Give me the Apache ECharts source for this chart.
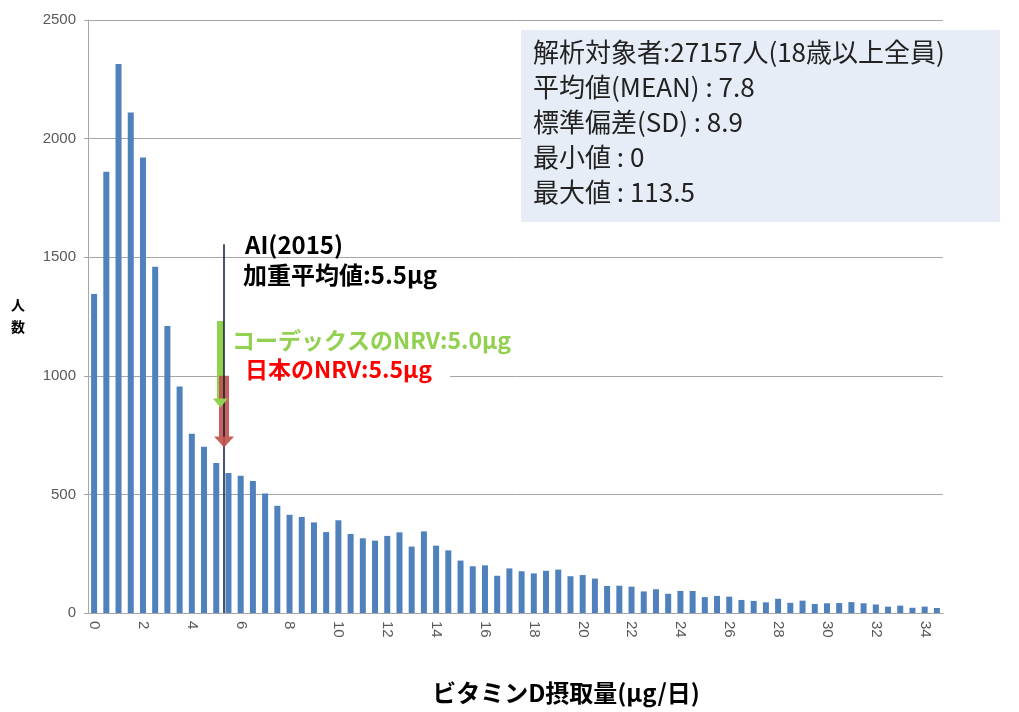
<!DOCTYPE html>
<html>
<head>
<meta charset="utf-8">
<script src="https://cdn.jsdelivr.net/npm/echarts@6/dist/echarts.min.js"></script>
<style>
  html, body { margin: 0; padding: 0; background: #fff; }
  #main { width: 1019px; height: 712px; }
</style>
</head>
<body>
<div id="main"></div>
<script>
// bins of 0.5 ug/day
var binLabels = ['0','0.5','1','1.5','2','2.5','3','3.5','4','4.5',
  '5','5.5','6','6.5','7','7.5','8','8.5','9','9.5',
  '10','10.5','11','11.5','12','12.5','13','13.5','14','14.5',
  '15','15.5','16','16.5','17','17.5','18','18.5','19','19.5',
  '20','20.5','21','21.5','22','22.5','23','23.5','24','24.5',
  '25','25.5','26','26.5','27','27.5','28','28.5','29','29.5',
  '30','30.5','31','31.5','32','32.5','33','33.5','34','34.5'];

var counts = [1345,1860,2315,2110,1920,1460,1210,955,756,701,
  632,590,579,556,504,452,414,405,382,341,
  391,333,315,305,325,340,280,344,284,264,
  221,197,201,157,188,176,167,178,183,155,
  160,145,114,115,111,91,100,81,93,93,
  67,72,69,55,51,45,60,43,52,38,
  41,42,46,41,36,27,31,22,27,21];

var yTicks = [0, 500, 1000, 1500, 2000, 2500];

var statLines = [
  '解析対象者:27157人(18歳以上全員)',
  '平均値(MEAN) : 7.8',
  '標準偏差(SD) : 8.9',
  '最小値 : 0',
  '最大値 : 113.5'
];

var aiValue = 5.5;      // AI(2015)
var codexNrv = 5.0;
var japanNrv = 5.5;

var myChart = echarts.init(document.getElementById('main'));
var gray = '#a6a6a6';
var labelColor = '#595959';

var graphics = [{
  type: 'rect',
  z: 1,
  shape: { x: 521, y: 30, width: 479, height: 192 },
  style: { fill: '#e7edf6' }
}];
// info box text
for (var i = 0; i < statLines.length; i++) {
  graphics.push({
    type: 'text',
    z: 3,
    x: 533, y: 52 + i * 35,
    style: {
      text: statLines[i],
      fill: '#222',
      font: '26px "Noto Sans CJK JP"',
      textVerticalAlign: 'middle'
    }
  });
}
graphics.push({
  type: 'text', z: 1,
  x: 245, y: 245,
  style: { text: 'AI(2015)', fill: '#000', font: 'bold 24px "Noto Sans CJK JP"', textVerticalAlign: 'middle' }
}, {
  type: 'text', z: 1,
  x: 243, y: 275,
  style: { text: '加重平均値:5.5μg', fill: '#000', font: 'bold 24px "Noto Sans CJK JP"', textVerticalAlign: 'middle' }
}, {
  type: 'text', z: 1,
  x: 232, y: 340,
  style: { text: 'コーデックスのNRV:5.0μg', fill: '#92d050', font: 'bold 23px "Noto Sans CJK JP"', textVerticalAlign: 'middle' }
}, {
  type: 'text', z: 1,
  x: 226, y: 369,
  style: {
    text: '日本のNRV:5.5μg', fill: '#ff0000', font: 'bold 23px "Noto Sans CJK JP"',
    textVerticalAlign: 'middle',
    backgroundColor: '#fff', padding: [2, 18, 2, 19]
  }
}, {
  type: 'text', z: 1,
  x: 18, y: 316,
  style: {
    text: '人\n数', fill: '#000', font: 'bold 14px "Noto Sans CJK JP"',
    lineHeight: 22, textAlign: 'center', textVerticalAlign: 'middle'
  }
}, {
  type: 'text', z: 1,
  x: 566, y: 693,
  style: {
    text: 'ビタミンD摂取量(μg/日)', fill: '#000', font: 'bold 24px "Noto Sans CJK JP"',
    textAlign: 'center', textVerticalAlign: 'middle'
  }
});

var option = {
  animation: false,
  grid: { left: 88, right: 76, top: 20, bottom: 99 },
  xAxis: [{
    type: 'category',
    data: binLabels,
    axisLine: { lineStyle: { color: gray } },
    axisTick: { interval: 0, length: 5, lineStyle: { color: gray } },
    axisLabel: {
      interval: 3, rotate: -90, margin: 8,
      color: labelColor, fontSize: 15, fontFamily: 'Liberation Sans'
    },
    splitLine: { show: false }
  }, {
    // overlay axis for the annotations
    type: 'value', min: 0, max: 35, show: false
  }],
  yAxis: {
    type: 'value',
    min: yTicks[0],
    max: yTicks[yTicks.length - 1],
    interval: 500,
    axisLine: { show: true, lineStyle: { color: gray } },
    axisTick: { show: true, length: 4, lineStyle: { color: gray } },
    axisLabel: {
      color: labelColor, fontSize: 15, margin: 12, fontFamily: 'Liberation Sans',
      formatter: function (v) { return String(v); }
    },
    splitLine: { lineStyle: { color: gray } }
  },
  series: [{
    name: '人数',
    type: 'bar',
    data: counts,
    barWidth: 6,
    itemStyle: { color: '#4f81bd' }
  }, {
    type: 'scatter',
    xAxisIndex: 1,
    data: [],
    z: 5,
    markLine: {
      silent: true,
      symbol: 'none',
      label: { show: false },
      data: [
        [ { coord: [codexNrv + 0.42, 1231], lineStyle: { color: '#92d050', width: 7, type: 'solid' } },
          { coord: [codexNrv + 0.42, 902] } ],
        [ { coord: [japanNrv + 0.07, 1000], lineStyle: { color: '#c0504d', width: 10, type: 'solid', opacity: 0.9 } },
          { coord: [japanNrv + 0.07, 742] } ],
        [ { coord: [aiValue + 0.07, 1555], lineStyle: { color: '#0d1b36', width: 1.5, type: 'solid' } },
          { coord: [aiValue + 0.07, 0] } ]
      ]
    },
    markPoint: {
      silent: true,
      symbol: 'triangle',
      symbolRotate: 180,
      label: { show: false },
      data: [
        { coord: [codexNrv + 0.42, 885], symbolSize: [15, 9], itemStyle: { color: '#92d050' } },
        { coord: [japanNrv + 0.07, 721], symbolSize: [20, 11], itemStyle: { color: '#c0504d', opacity: 0.9 } }
      ]
    }
  }],
  graphic: graphics
};

if (option && typeof option === "object") {
  myChart.setOption(option, true);
}
</script>
</body>
</html>
